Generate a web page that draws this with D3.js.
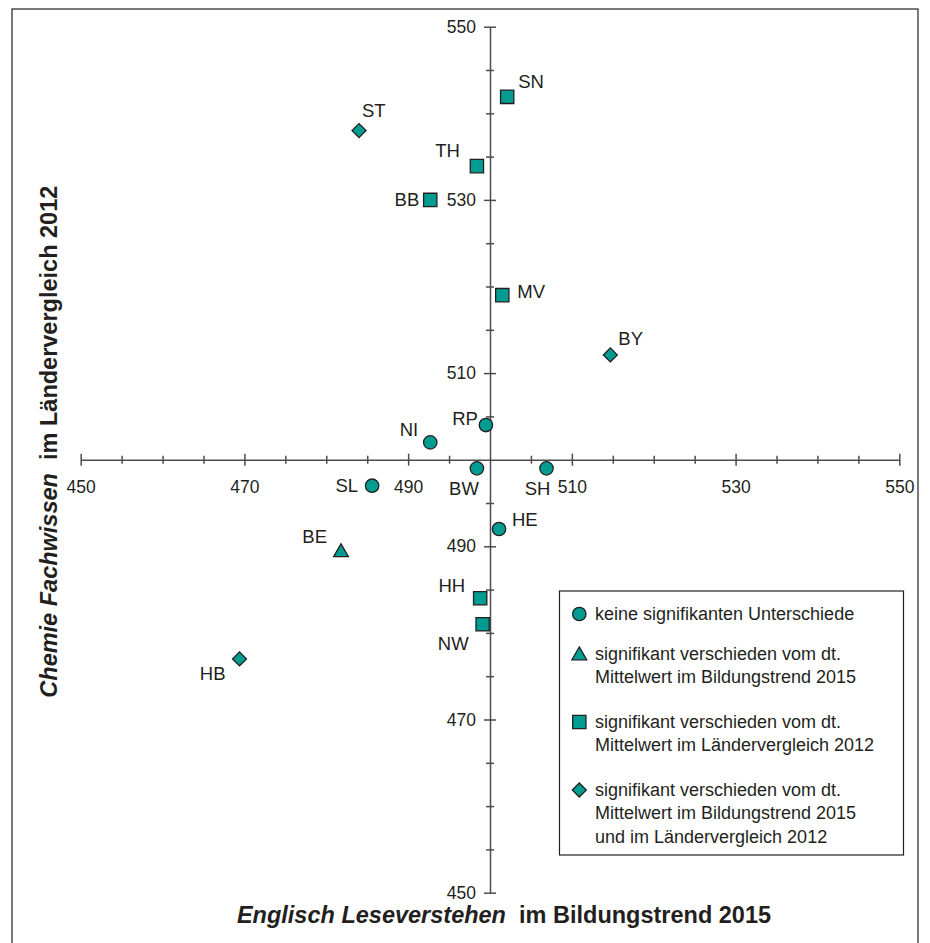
<!DOCTYPE html>
<html>
<head>
<meta charset="utf-8">
<script src="https://cdn.jsdelivr.net/npm/d3@7"></script>
<style>
  body { margin: 0; background: #fff; }
  svg { display: block; font-family: "Liberation Sans", Arial, sans-serif; }
</style>
</head>
<body>
<svg width="930" height="943"></svg>
<script>
// Länder, Englisch Leseverstehen (BT 2015), Chemie Fachwissen (LV 2012), Gruppe
var states   = ["SN", "ST", "TH", "BB", "MV", "BY", "RP", "NI", "BW", "SH", "SL", "HE", "BE", "HH", "NW", "HB"];
var englisch = [502.1, 484.0, 498.4, 492.7, 501.5, 514.7, 499.5, 492.7, 498.4, 506.9, 485.6, 501.1, 481.8, 498.8, 499.1, 469.4];
var chemie   = [541.9, 538.0, 533.9, 530.0, 519.0, 512.1, 504.0, 502.0, 499.0, 499.0, 497.0, 492.0, 489.3, 484.0, 481.0, 477.0];
var groups   = ["square", "diamond", "square", "square", "square", "diamond", "circle", "circle",
                "circle", "circle", "circle", "circle", "triangle", "square", "square", "diamond"];

var tickValues  = [450, 470, 490, 510, 530, 550];
var legendShapes = ["circle", "triangle", "square", "diamond"];
var legendTexts  = [
  ["keine signifikanten Unterschiede"],
  ["signifikant verschieden vom dt.", "Mittelwert im Bildungstrend 2015"],
  ["signifikant verschieden vom dt.", "Mittelwert im Ländervergleich 2012"],
  ["signifikant verschieden vom dt.", "Mittelwert im Bildungstrend 2015", "und im Ländervergleich 2012"]
];

var svg = d3.select("svg");
var ink = "#231f20", teal = "#009b91", axisCol = "#4d4d4d";

var x = d3.scaleLinear().domain([450, 550]).range([80.7, 899.3]);
var y = d3.scaleLinear().domain([450, 550]).range([892.7, 26.7]);

// frame around the figure
svg.append("rect")
   .attr("x", 12).attr("y", 9)
   .attr("width", 906).attr("height", 960)
   .attr("fill", "none").attr("stroke", ink).attr("stroke-width", 1.2);

var minor = d3.range(450, 551, 5);
function isMajor(d) { return tickValues.indexOf(d) >= 0; }

var xAxis = d3.axisBottom(x).tickValues(minor).tickSizeOuter(0)
              .tickFormat(function(d) { return isMajor(d) ? d : ""; });
var yAxis = d3.axisLeft(y).tickValues(minor).tickSizeOuter(0)
              .tickFormat(function(d) { return isMajor(d) ? d : ""; });

var gx = svg.append("g")
            .attr("transform", "translate(0," + y(500) + ")")
            .call(xAxis);
gx.selectAll(".tick line")
  .attr("y1", function(d) { return isMajor(d) ? -6 : -4; })
  .attr("y2", function(d) { return isMajor(d) ? 6 : 4; });
gx.selectAll(".tick text").attr("y", 33).attr("dy", 0);

var gy = svg.append("g")
            .attr("transform", "translate(" + x(500) + ",0)")
            .call(yAxis);
gy.selectAll(".tick line")
  .attr("x1", function(d) { return isMajor(d) ? -6 : -4; })
  .attr("x2", function(d) { return isMajor(d) ? 6 : 4; });
gy.selectAll(".tick text").attr("x", -14);

// hide the crossing tick at 500
gx.selectAll(".tick").filter(function(d) { return d === 500; }).remove();
gy.selectAll(".tick").filter(function(d) { return d === 500; }).remove();

svg.selectAll(".domain, .tick line").attr("stroke", axisCol).attr("stroke-width", 1.5);
svg.selectAll(".tick text")
   .attr("font-size", 17.5).attr("fill", ink)
   .attr("font-family", "Liberation Sans, Arial, sans-serif");

function shape(type) {
  if (type === "circle")   return d3.symbol(d3.symbolCircle, 141)();
  if (type === "square")   return d3.symbol(d3.symbolSquare, 177)();
  if (type === "triangle") return d3.symbol(d3.symbolTriangle, 95)();
  return d3.symbol(d3.symbolSquare, 98)();
}

var points = states.map(function(s, i) {
  return { name: s, ex: englisch[i], ch: chemie[i], g: groups[i] };
});

svg.append("g").selectAll("path")
   .data(points)
   .join("path")
   .attr("d", function(d) { return shape(d.g); })
   .attr("transform", function(d) {
     return "translate(" + x(d.ex) + "," + y(d.ch) + ")" + (d.g === "diamond" ? " rotate(45)" : "");
   })
   .attr("fill", teal).attr("stroke", ink).attr("stroke-width", 1.3);

// where each label sits next to its marker
var labelPos = {
  SN: [11, -9, "start"], ST: [3, -14, "start"], TH: [-17, -9, "end"], BB: [-11, 6, "end"],
  MV: [15, 3, "start"], BY: [8, -10, "start"], RP: [-8, 0, "end"], NI: [-12, -6, "end"],
  BW: [2, 27, "end"], SH: [4, 27, "end"], SL: [-14, 6, "end"], HE: [13, -3, "start"],
  BE: [-14, -9, "end"], HH: [-15, -6, "end"], NW: [-14, 26, "end"], HB: [-14, 21, "end"]
};

svg.append("g").selectAll("text")
   .data(points)
   .join("text")
   .attr("x", function(d) { return x(d.ex) + labelPos[d.name][0]; })
   .attr("y", function(d) { return y(d.ch) + labelPos[d.name][1]; })
   .attr("text-anchor", function(d) { return labelPos[d.name][2]; })
   .attr("font-size", 18.5).attr("fill", ink)
   .text(function(d) { return d.name; });

// legend
var legend = svg.append("g");
legend.append("rect")
      .attr("x", 559.5).attr("y", 591)
      .attr("width", 344).attr("height", 264)
      .attr("fill", "#fff").attr("stroke", ink).attr("stroke-width", 1.2);

var legendTop = [620, 660, 728, 796];
legendShapes.forEach(function(s, i) {
  legend.append("path")
        .attr("d", shape(s))
        .attr("transform", "translate(579.3," + (legendTop[i] - 6 + (s === "triangle" ? 1.5 : 0)) + ")" + (s === "diamond" ? " rotate(45)" : ""))
        .attr("fill", teal).attr("stroke", ink).attr("stroke-width", 1.3);
  var t = legend.append("text")
                .attr("x", 595).attr("y", legendTop[i])
                .attr("font-size", 18).attr("fill", ink);
  legendTexts[i].forEach(function(line, j) {
    t.append("tspan").attr("x", 595).attr("dy", j === 0 ? 0 : 23.3).text(line);
  });
});

// axis titles
var xt = svg.append("text")
            .attr("x", 504).attr("y", 923)
            .attr("text-anchor", "middle")
            .attr("font-size", 23.5).attr("font-weight", "bold").attr("fill", ink);
xt.append("tspan").attr("font-style", "italic").text("Englisch Leseverstehen");
xt.append("tspan").text("\u00a0 im Bildungstrend 2015");

var yt = svg.append("text")
            .attr("transform", "translate(57,441.7) rotate(-90)")
            .attr("text-anchor", "middle")
            .attr("font-size", 23.5).attr("font-weight", "bold").attr("fill", ink);
yt.append("tspan").attr("font-style", "italic").text("Chemie Fachwissen");
yt.append("tspan").text("\u00a0 im Ländervergleich 2012");
</script>
</body>
</html>
